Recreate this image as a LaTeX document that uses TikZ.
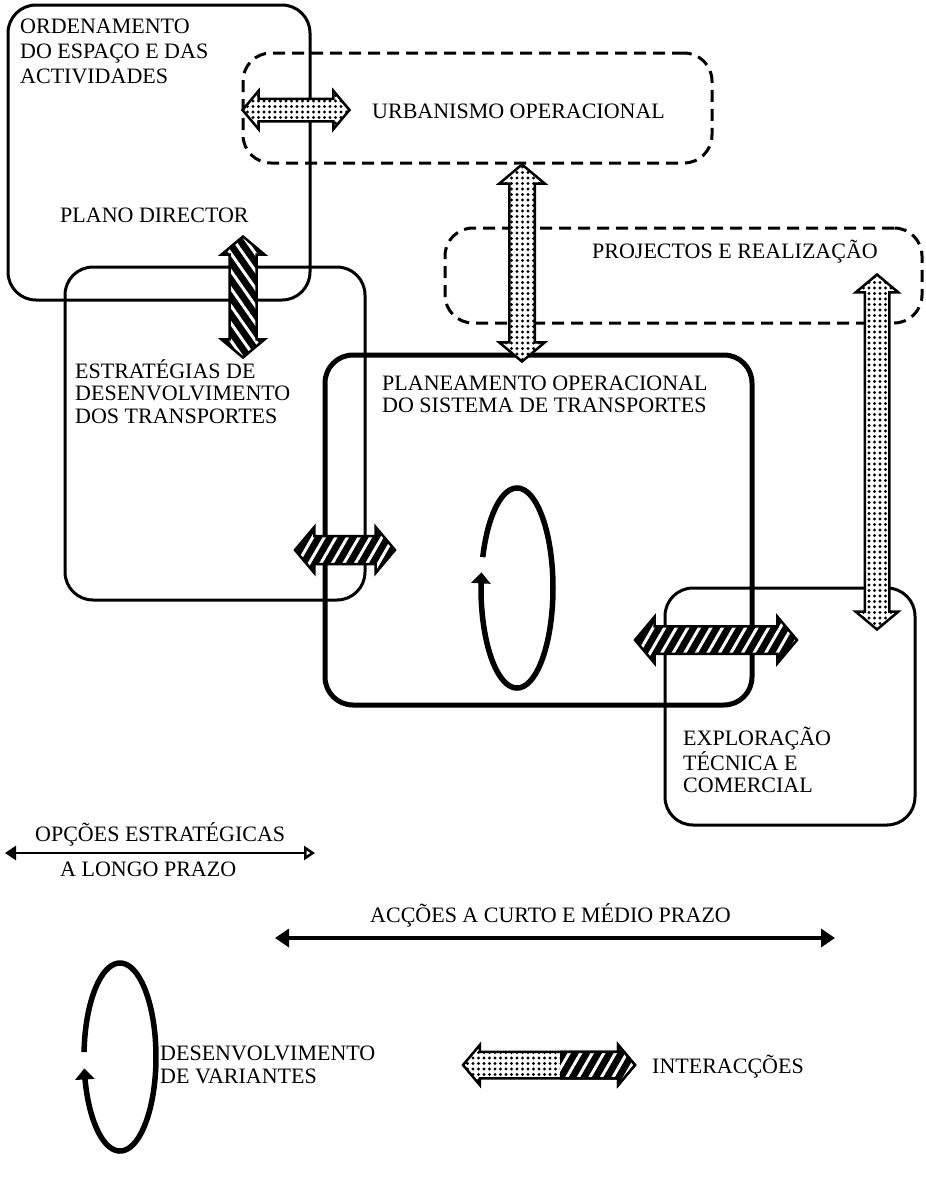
\documentclass[tikz,border=0pt]{standalone}
\usepackage{fontspec}
\setmainfont{Liberation Serif}
\usetikzlibrary{shapes.arrows,patterns.meta,arrows.meta}
\newcommand\fsz{\fontsize{22}{26}\selectfont}
\begin{document}
\begin{tikzpicture}[x=1pt,y=-1pt,
  box/.style={draw,line width=3pt,rounded corners=28pt,inner sep=0pt},
  dbox/.style={box,dash pattern=on 12pt off 7pt},
  lbl/.style={anchor=base west,inner sep=0pt,font=\fsz},
  arr/.style={double arrow,draw,line width=2.5pt,inner xsep=0pt,
    double arrow head indent=0pt,double arrow tip angle=100},
  dotarr/.style={arr,preaction={fill=white},pattern={Dots[radius=1.7pt,distance=5.5pt]},pattern color=black},
  hatarr/.style={arr,preaction={fill=black},pattern={Lines[angle=60,distance=10pt,line width=3pt]},pattern color=white},
  vhatarr/.style={arr,preaction={fill=black},pattern={Lines[angle=-55,distance=10pt,line width=3pt]},pattern color=white},
  loop/.style={line width=5.5pt,-{Triangle[length=11pt,width=19pt]}}
]
\useasboundingbox (0,0) rectangle (926,1179);
\fill[white] (0,0) rectangle (926,1179);

% boxes
\node[box,minimum width=302pt,minimum height=295pt] (ord) at (159,152.5) {};
\node[dbox,minimum width=469pt,minimum height=110pt] (urb) at (477.5,108) {};
\node[dbox,minimum width=477pt,minimum height=95pt] (proj) at (683.5,275.5) {};
\node[box,minimum width=300pt,minimum height=333pt] (estr) at (215,433.5) {};
\node[box,line width=5pt,minimum width=427pt,minimum height=350pt] (plan) at (538.5,530) {};
\node[box,minimum width=250pt,minimum height=237pt] (expl) at (790,706.5) {};

% texts
\node[lbl] (t1a) at (20,33) {ORDENAMENTO};
\node[lbl] (t1b) at (20,58) {DO ESPAÇO E DAS};
\node[lbl] (t1c) at (20,83) {ACTIVIDADES};
\node[lbl] (t2) at (60,222) {PLANO DIRECTOR};
\node[lbl] (t3) at (372,118) {URBANISMO OPERACIONAL};
\node[lbl] (t4) at (592,258) {PROJECTOS E REALIZAÇÃO};
\node[lbl] (t5a) at (75,378) {ESTRATÉGIAS DE};
\node[lbl] (t5b) at (75,400) {DESENVOLVIMENTO};
\node[lbl] (t5c) at (75,423) {DOS TRANSPORTES};
\node[lbl] (t6a) at (382,390) {PLANEAMENTO OPERACIONAL};
\node[lbl] (t6b) at (382,412) {DO SISTEMA DE TRANSPORTES};
\node[lbl] (t7a) at (683,745) {EXPLORAÇÃO};
\node[lbl] (t7b) at (683,770) {TÉCNICA E};
\node[lbl] (t7c) at (683,792) {COMERCIAL};
\node[lbl] (t8a) at (35,841) {OPÇÕES ESTRATÉGICAS};
\node[lbl] (t8b) at (60,876) {A LONGO PRAZO};
\node[lbl] (t9) at (370,922) {ACÇÕES A CURTO E MÉDIO PRAZO};
\node[lbl] (t10a) at (160,1060) {DESENVOLVIMENTO};
\node[lbl] (t10b) at (160,1083) {DE VARIANTES};
\node[lbl] (t11) at (652,1073) {INTERACÇÕES};

% interaction arrows
\node[dotarr,minimum height=107pt,inner ysep=10pt,double arrow head extend=8pt] (a1) at (296,110) {};
\node[vhatarr,rotate=90,minimum height=121pt,inner ysep=12pt,double arrow head extend=8pt] (a2) at (243,297) {};
\node[dotarr,rotate=90,minimum height=197pt,inner ysep=11.5pt,double arrow head extend=10pt] (a3) at (522,263) {};
\node[dotarr,rotate=90,minimum height=355pt,inner ysep=11pt,double arrow head extend=9pt] (a4) at (877,452) {};
\node[hatarr,minimum height=100pt,inner ysep=12.5pt,double arrow head extend=9pt] (a5) at (345,550) {};
\node[hatarr,minimum height=162pt,inner ysep=12.5pt,double arrow head extend=9.5pt] (a6) at (716,640) {};
\node[dotarr,minimum height=172pt,inner ysep=12pt,double arrow head extend=7pt] (a7) at (549,1065) {};
\begin{scope}
\clip (560,1000) rectangle (700,1130);
\node[hatarr,minimum height=172pt,inner ysep=12pt,double arrow head extend=7pt] (a7h) at (549,1065) {};
\end{scope}

% loops
\draw[loop] plot[domain=0:351,samples=150] ({517+36*cos(162-\x)},{588-100*sin(162-\x)});
\draw[loop] plot[domain=0:350,samples=150] ({120+36*cos(177-\x)},{1057-94*sin(177-\x)});

% time arrows
\coordinate (o1) at (5,853);
\coordinate (o2) at (315,853);
\draw[line width=2.5pt,{Triangle[length=11pt,width=14pt]}-{Triangle[open,length=11pt,width=14pt]}] (o1) -- (o2);
\coordinate (c1) at (275,938);
\coordinate (c2) at (835,938);
\draw[line width=4.5pt,{Triangle[length=14pt,width=18pt]}-{Triangle[length=14pt,width=18pt]}] (c1) -- (c2);
\end{tikzpicture}
\end{document}
